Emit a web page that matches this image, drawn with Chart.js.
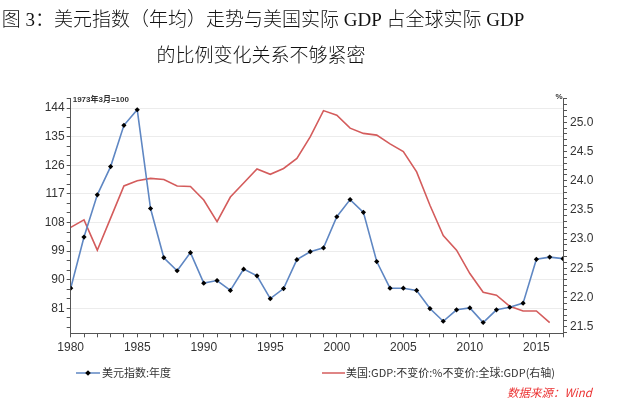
<!DOCTYPE html>
<html>
<head>
<meta charset="utf-8">
<script src="https://cdn.jsdelivr.net/npm/chart.js@4.4.1/dist/chart.umd.min.js"></script>
<style>
    html, body { margin: 0; padding: 0; background: #fff; }
    canvas { display: block; }
</style>
</head>
<body>
<canvas id="dxyChart" width="640" height="406"></canvas>
<script>
// years on the x axis
const years = [
    1980, 1981, 1982, 1983, 1984, 1985, 1986, 1987, 1988, 1989,
    1990, 1991, 1992, 1993, 1994, 1995, 1996, 1997, 1998, 1999,
    2000, 2001, 2002, 2003, 2004, 2005, 2006, 2007, 2008, 2009,
    2010, 2011, 2012, 2013, 2014, 2015, 2016, 2017
];
// 美元指数:年度 (left axis, 1973年3月=100)
const dollarIndex = [
    87.3, 103.4, 116.7, 125.6, 138.6, 143.5, 112.4, 96.9, 92.8, 98.5,
    88.9, 89.7, 86.6, 93.3, 91.2, 84.0, 87.2, 96.3, 98.8, 100.0,
    109.8, 115.2, 111.2, 95.7, 87.3, 87.3, 86.6, 80.9, 76.9, 80.5,
    81.1, 76.5, 80.5, 81.3, 82.6, 96.4, 97.1, 96.6
];
// 美国GDP占全球GDP, % (right axis), 1980-2016
const usGdpShare = [
    23.20, 23.33, 22.81, 23.36, 23.91, 24.00, 24.04, 24.02, 23.91, 23.90,
    23.67, 23.30, 23.72, 23.96, 24.20, 24.11, 24.21, 24.38, 24.75, 25.20,
    25.12, 24.90, 24.81, 24.78, 24.63, 24.50, 24.15, 23.58, 23.06, 22.81,
    22.41, 22.09, 22.04, 21.85, 21.77, 21.77, 21.57
];

const titleLines = ["图 3：美元指数（年均）走势与美国实际 GDP 占全球实际 GDP", "的比例变化关系不够紧密"];
const legendLabels = ["美元指数:年度", "美国:GDP:不变价:%不变价:全球:GDP(右轴)"];
const sourceText = "数据来源：Wind";

const BLUE = "rgb(95, 135, 195)";
const RED = "rgb(212, 92, 92)";
const AXIS = "#555";
const TICK_FONT = { family: "'Liberation Sans', 'Noto Sans CJK SC'", size: 12 };

const dollarPoints = years.map((y, i) => ({ x: y, y: dollarIndex[i] }));
const gdpPoints = usGdpShare.map((v, i) => ({ x: years[i], y: v }));

// titles, legend, source and unit notes
const annotations = {
    id: "annotations",
    afterDraw(chart) {
        const ctx = chart.ctx;
        const area = chart.chartArea;
        ctx.save();
        ctx.fillStyle = "#111";
        ctx.textAlign = "center";
        ctx.textBaseline = "middle";
        ctx.font = "300 19px 'Liberation Serif', 'Noto Sans CJK SC'";
        ctx.fillText(titleLines[0], 263, 21);
        ctx.fillText(titleLines[1], 261, 57);

        // unit notes
        ctx.fillStyle = "#333";
        ctx.font = "bold 8px 'Liberation Sans', 'Noto Sans CJK SC'";
        ctx.textAlign = "left";
        ctx.fillText("1973年3月=100", area.left + 2, 100);
        ctx.textAlign = "center";
        ctx.fillText("%", area.right - 4, 97);

        // legend
        const ly = 373;
        ctx.lineWidth = 1.5;
        ctx.strokeStyle = BLUE;
        ctx.beginPath(); ctx.moveTo(76, ly); ctx.lineTo(100, ly); ctx.stroke();
        ctx.fillStyle = "#000";
        ctx.beginPath();
        ctx.moveTo(88, ly - 2.8); ctx.lineTo(90.8, ly); ctx.lineTo(88, ly + 2.8); ctx.lineTo(85.2, ly);
        ctx.closePath(); ctx.fill();
        ctx.strokeStyle = RED;
        ctx.beginPath(); ctx.moveTo(322, ly); ctx.lineTo(345, ly); ctx.stroke();

        ctx.fillStyle = "#333";
        ctx.textAlign = "left";
        ctx.font = "11px 'Noto Sans CJK SC'";
        ctx.fillText(legendLabels[0], 102, ly);
        ctx.fillText(legendLabels[1], 346, ly);

        ctx.fillStyle = "rgb(235, 50, 50)";
        ctx.font = "italic 11.5px 'Noto Sans CJK SC'";
        ctx.fillText(sourceText, 507, 393);
        ctx.restore();
    }
};

const ctx = document.querySelector("#dxyChart").getContext("2d");

new Chart(ctx, {
    type: "line",
    data: {
        datasets: [
            {
                label: legendLabels[0],
                data: dollarPoints,
                yAxisID: "yLeft",
                borderColor: BLUE,
                borderWidth: 1.6,
                pointStyle: "rectRot",
                pointRadius: 2.6,
                pointBackgroundColor: "#000",
                pointBorderColor: "#000",
                pointBorderWidth: 0,
                tension: 0
            },
            {
                label: legendLabels[1],
                data: gdpPoints,
                yAxisID: "yRight",
                borderColor: RED,
                borderWidth: 1.6,
                pointRadius: 0,
                tension: 0
            }
        ]
    },
    options: {
        responsive: false,
        animation: false,
        layout: { padding: { top: 98, left: 0, right: 0, bottom: 0 } },
        plugins: {
            legend: { display: false },
            tooltip: { enabled: false },
            title: { display: false }
        },
        scales: {
            x: {
                type: "linear",
                min: 1980,
                max: 2017,
                afterFit: s => { s.height = 72.7; },
                afterBuildTicks: s => {
                    s.ticks = years.map(v => ({ value: v }));
                },
                border: { color: AXIS, width: 1 },
                grid: { drawOnChartArea: false, tickLength: 4, tickColor: AXIS },
                ticks: {
                    autoSkip: false,
                    maxRotation: 0,
                    padding: 3,
                    color: "#333",
                    font: TICK_FONT,
                    callback: v => (v % 5 === 0 ? String(v) : "")
                }
            },
            yLeft: {
                type: "linear",
                position: "left",
                min: 73.1,
                max: 147.2,
                afterFit: s => { s.width = 70.7; },
                afterBuildTicks: s => {
                    const t = [];
                    for (let v = 75; v <= 147; v += 3) t.push({ value: v });
                    s.ticks = t;
                },
                border: { color: AXIS, width: 1 },
                grid: {
                    color: c => (c.tick && c.tick.value % 9 === 0 ? "#ececec" : "rgba(0,0,0,0)"),
                    tickColor: AXIS,
                    tickLength: 4
                },
                ticks: {
                    autoSkip: false,
                    padding: 2,
                    color: "#333",
                    font: TICK_FONT,
                    callback: v => (v % 9 === 0 ? String(v) : "")
                }
            },
            yRight: {
                type: "linear",
                position: "right",
                min: 21.387,
                max: 25.416,
                afterFit: s => { s.width = 77; },
                afterBuildTicks: s => {
                    const t = [];
                    for (let k = 214; k <= 254; k++) t.push({ value: k / 10 });
                    s.ticks = t;
                },
                border: { color: AXIS, width: 1 },
                grid: { drawOnChartArea: false, tickColor: AXIS, tickLength: 4 },
                ticks: {
                    autoSkip: false,
                    padding: 3,
                    color: "#333",
                    font: TICK_FONT,
                    callback: v => (Math.round(v * 10) % 5 === 0 ? v.toFixed(1) : "")
                }
            }
        }
    },
    plugins: [annotations]
});
</script>
</body>
</html>
